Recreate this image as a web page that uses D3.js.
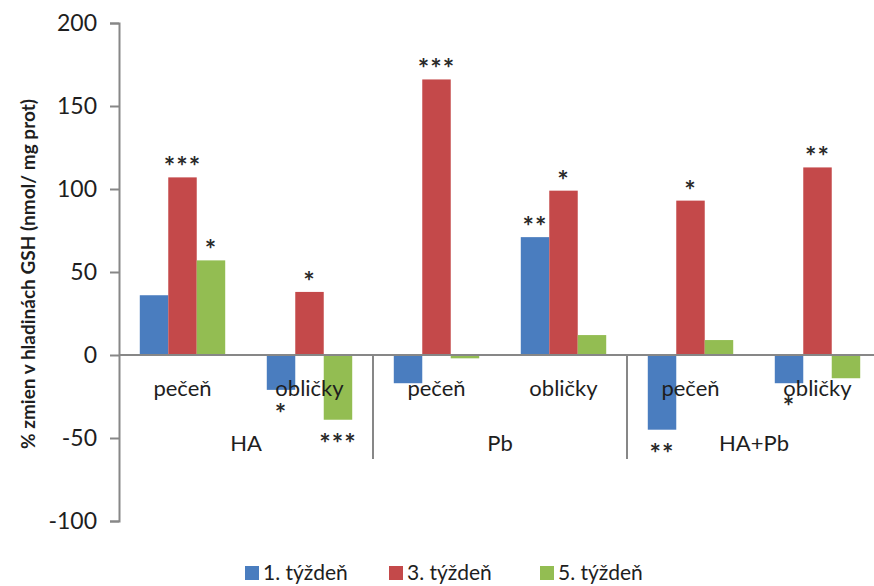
<!DOCTYPE html>
<html>
<head>
<meta charset="utf-8">
<script src="https://cdn.jsdelivr.net/npm/d3@7"></script>
<style>
  html, body { margin: 0; padding: 0; background: #fff; }
  svg { display: block; font-family: Lato, "Open Sans", sans-serif; }
</style>
</head>
<body>
<svg id="chart" width="874" height="586"></svg>
<script>
// Groups (treatment) and organs within each group
const groups = ["HA", "Pb", "HA+Pb"];
const organs = ["pečeň", "obličky"];
const seriesNames = ["1. týždeň", "3. týždeň", "5. týždeň"];
const seriesColors = ["#4a7dbf", "#c4494a", "#93bd52"];

// % change values, per series, in order HA-pečeň, HA-obličky, Pb-pečeň, Pb-obličky, HA+Pb-pečeň, HA+Pb-obličky
const week1 = [36, -21, -17, 71, -45, -17];
const week3 = [107, 38, 166, 99, 93, 113];
const week5 = [57, -39, -2, 12, 9, -14];

// significance marks per series, same order
const sig1 = ["", "*", "", "**", "**", "*"];
const sig3 = ["***", "*", "***", "*", "*", "**"];
const sig5 = ["*", "***", "", "", "", ""];

const yTicks = [-100, -50, 0, 50, 100, 150, 200];
const yTitle = "% zmien v hladinách GSH (nmol/ mg prot)";

const values = [week1, week3, week5];
const sigs = [sig1, sig3, sig5];

const categories = [];
groups.forEach(g => organs.forEach(o => categories.push(g + "|" + o)));

const svg = d3.select("#chart");
const plotLeft = 119, plotRight = 881, plotTop = 23, plotBottom = 521;

const x = d3.scaleBand().domain(categories).range([plotLeft, plotRight]).paddingInner(0).paddingOuter(0);
const xs = d3.scaleBand().domain(d3.range(3)).range([0, x.bandwidth()]).paddingInner(0).paddingOuter(0.73);
const y = d3.scaleLinear().domain([-100, 200]).range([plotBottom, plotTop]);

const axisColor = "#878787";
const textColor = "#1e1e1e";

// Y axis
const yAxis = d3.axisLeft(y).tickValues(yTicks).tickSize(9).tickPadding(13).tickFormat(d => String(d));
const gy = svg.append("g").attr("transform", `translate(${plotLeft},0)`).call(yAxis);
gy.select(".domain").attr("stroke", axisColor).attr("stroke-width", 2);
gy.selectAll(".tick line").attr("stroke", axisColor).attr("stroke-width", 2);
gy.selectAll(".tick text").attr("fill", textColor).attr("font-size", 23).attr("font-family", "Lato, sans-serif");

// Y title
svg.append("text")
  .attr("transform", `translate(27,${(plotTop + plotBottom) / 2 + 2}) rotate(-90)`)
  .attr("text-anchor", "middle")
  .attr("dominant-baseline", "central")
  .attr("font-size", 19)
  .attr("font-weight", "bold")
  .attr("fill", textColor)
  .text(yTitle);

// Bars
const barData = [];
values.forEach((arr, s) => arr.forEach((v, i) => barData.push({ s, i, v, sig: sigs[s][i] })));

svg.append("g").selectAll("rect").data(barData).join("rect")
  .attr("x", d => x(categories[d.i]) + xs(d.s))
  .attr("width", xs.bandwidth())
  .attr("y", d => y(Math.max(0, d.v)))
  .attr("height", d => Math.abs(y(d.v) - y(0)))
  .attr("fill", d => seriesColors[d.s]);

// Zero baseline
svg.append("line")
  .attr("x1", plotLeft).attr("x2", 874)
  .attr("y1", y(0)).attr("y2", y(0))
  .attr("stroke", axisColor).attr("stroke-width", 2);

// Group separators below the baseline
const groupWidth = x.bandwidth() * organs.length;
groups.forEach((g, gi) => {
  if (gi > 0) {
    const gx = plotLeft + gi * groupWidth;
    svg.append("line")
      .attr("x1", gx).attr("x2", gx)
      .attr("y1", y(0)).attr("y2", 459)
      .attr("stroke", axisColor).attr("stroke-width", 2);
  }
});

// Organ labels
svg.append("g").selectAll("text").data(categories).join("text")
  .attr("x", d => x(d) + x.bandwidth() / 2)
  .attr("y", 396)
  .attr("text-anchor", "middle")
  .attr("font-size", 22)
  .attr("fill", textColor)
  .text(d => d.split("|")[1]);

// Group labels
svg.append("g").selectAll("text").data(groups).join("text")
  .attr("x", (d, gi) => plotLeft + gi * groupWidth + groupWidth / 2)
  .attr("y", 451)
  .attr("text-anchor", "middle")
  .attr("font-size", 22)
  .attr("fill", textColor)
  .text(d => d);

// Significance asterisks
svg.append("g").selectAll("text").data(barData.filter(d => d.sig)).join("text")
  .attr("x", d => x(categories[d.i]) + xs(d.s) + xs.bandwidth() / 2)
  .attr("y", d => d.v >= 0 ? y(d.v) - 1 : y(d.v) + 33)
  .attr("text-anchor", "middle")
  .attr("font-size", 27)
  .attr("font-weight", "bold")
  .attr("letter-spacing", 1)
  .attr("fill", "#2a2a2a")
  .text(d => d.sig);

// Legend
const legendX = [245, 389, 540];
const lg = svg.append("g").selectAll("g").data(seriesNames).join("g")
  .attr("transform", (d, i) => `translate(${legendX[i]},566)`);
lg.append("rect").attr("width", 14).attr("height", 14).attr("fill", (d, i) => seriesColors[i]);
lg.append("text").attr("x", 18).attr("y", 14).attr("font-size", 21).attr("fill", textColor).text(d => d);
</script>
</body>
</html>
